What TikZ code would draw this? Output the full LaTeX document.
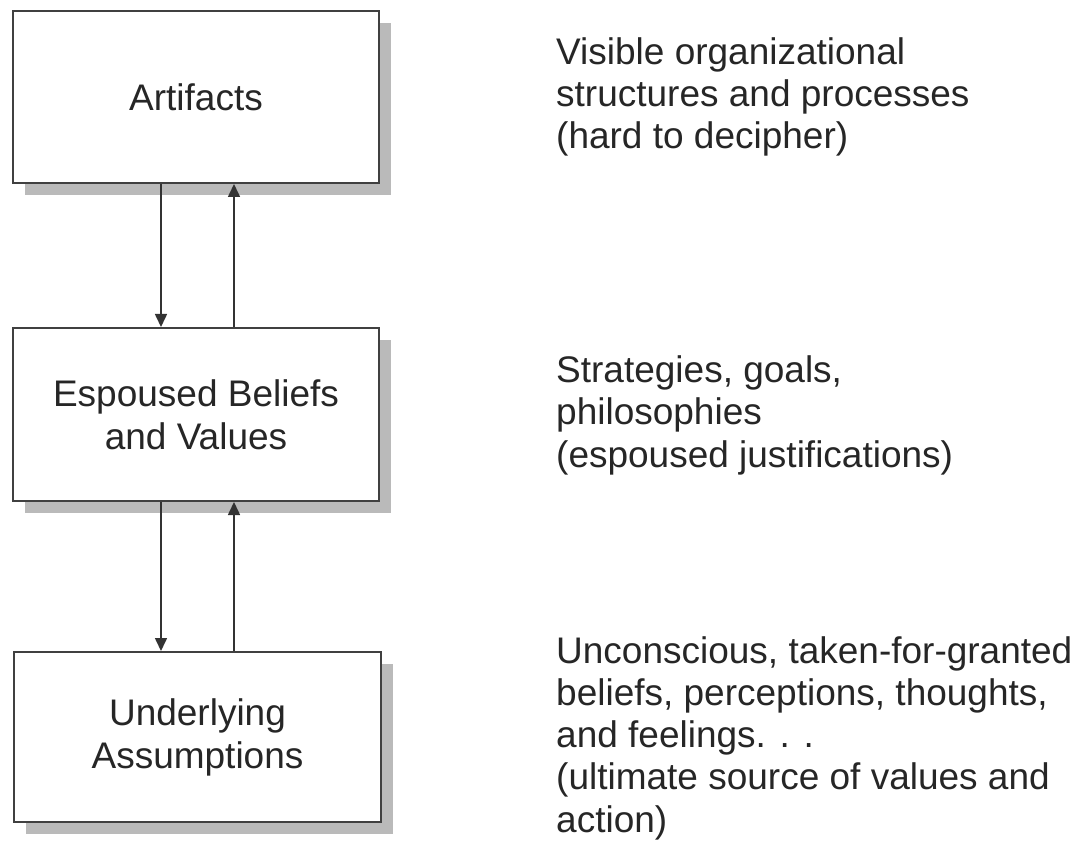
\documentclass[tikz,border=0pt]{standalone}
\usepackage{fontspec}
\setmainfont{Liberation Sans}
\usetikzlibrary{arrows.meta,shadows}
\begin{document}
\begin{tikzpicture}[x=1pt,y=-1pt,
  box/.style={draw=black!75,line width=2pt,fill=white,minimum width=366pt,
    align=center,inner sep=0pt,
    font=\fontsize{37}{43}\selectfont,text=black!85,
    drop shadow={shadow xshift=12pt,shadow yshift=-12pt,fill=black!27,opacity=1}},
  desc/.style={anchor=base west,align=left,inner sep=0pt,
    font=\fontsize{37}{42.2}\selectfont,text=black!85},
  arr/.style={draw=black!80,line width=1.6pt,-{Triangle[length=13pt,width=12pt]}}]
\useasboundingbox (0,0) rectangle (1077,842);
\node[box,minimum height=172pt] (art) at (196,97) {Artifacts};
\node[box,minimum height=173pt] (esp) at (196,414.5) {Espoused Beliefs\\and Values};
\node[box,minimum height=170pt,minimum width=367pt] (und) at (197.5,737) {Underlying\\Assumptions};
\coordinate (L) at (161,0);
\coordinate (R) at (234,0);
\draw[arr] (art.south -| L) -- (esp.north -| L);
\draw[arr] (esp.north -| R) -- (art.south -| R);
\draw[arr] (esp.south -| L) -- (und.north -| L);
\draw[arr] (und.north -| R) -- (esp.south -| R);
\node[desc] (t1) at (556,149) {Visible organizational\\structures and processes\\(hard to decipher)};
\node[desc] (t2) at (556,467) {Strategies, goals,\\philosophies\\(espoused justifications)};
\node[desc] (t3) at (556,832) {Unconscious, taken-for-granted\\beliefs, perceptions, thoughts,\\and feelings. . .\\(ultimate source of values and\\action)};
\end{tikzpicture}
\end{document}
